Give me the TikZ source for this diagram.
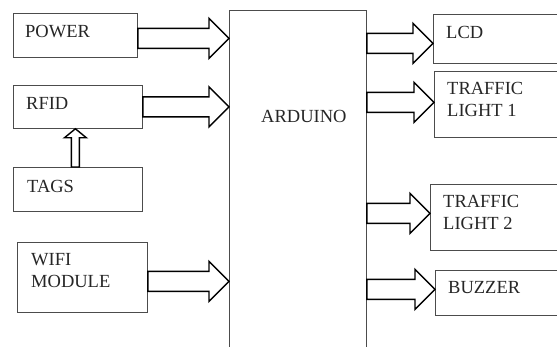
\documentclass[tikz,border=0pt]{standalone}
\usepackage{fontspec}
\setmainfont{Liberation Serif}
\usetikzlibrary{calc}

\tikzset{
  blk/.style={draw=black!70,line width=0.8pt,anchor=north west,inner sep=0pt},
  txt/.style={anchor=west,inner sep=0pt,align=left,text=black!85,
    font=\rmfamily\fontsize{18.5}{22}\selectfont},
  fat/.style={draw=black,line width=1.4pt,line join=miter},
}

% hollow block arrow: x from #1, tip at x of #2, middle line at y of #3
\newcommand{\fatarrow}[3]{%
  \draw[fat] let \p1=(#1), \p2=(#2), \p3=(#3) in
     (\x1,\y3+10pt) -- (\x2-20pt,\y3+10pt) -- (\x2-20pt,\y3+20pt) -- (\x2,\y3)
  -- (\x2-20pt,\y3-20pt) -- (\x2-20pt,\y3-10pt) -- (\x1,\y3-10pt) -- cycle;}

\begin{document}
\begin{tikzpicture}[x=1pt,y=-1pt]

\useasboundingbox (0,0) rectangle (557,347);
\clip (0,0) rectangle (557,347);

% inputs
\node[blk,minimum width=124,minimum height=44] (power) at (13,13) {};
\node[txt] (powertxt) at (25,32) {POWER};

\node[blk,minimum width=129,minimum height=43] (rfid) at (13,85) {};
\node[txt] (rfidtxt) at (26,103) {RFID};

\node[blk,minimum width=129,minimum height=44] (tags) at (13,167) {};
\node[txt] (tagstxt) at (27,186) {TAGS};

\node[blk,minimum width=130,minimum height=70] (wifi) at (17,242) {};
\node[txt] (wifitxt) at (31,271) {WIFI\\MODULE};

% controller
\node[blk,minimum width=137,minimum height=360] (ard) at (229,10) {};
\node[txt] (ardtxt) at (261,116) {ARDUINO};

% outputs
\node[blk,minimum width=140,minimum height=49] (lcd) at (433,14) {};
\node[txt] (lcdtxt) at (446,32) {LCD};

\node[blk,minimum width=140,minimum height=66] (tl1) at (434,71) {};
\node[txt] (tl1txt) at (447,99) {TRAFFIC\\LIGHT 1};

\node[blk,minimum width=140,minimum height=66] (tl2) at (430,184) {};
\node[txt] (tl2txt) at (443,212.5) {TRAFFIC\\LIGHT 2};

\node[blk,minimum width=140,minimum height=45] (buzzer) at (435,270) {};
\node[txt] (buzzertxt) at (448,288) {BUZZER};

% arrows
\fatarrow{power.east}{ard.west}{[yshift=-3pt]power.east}
\fatarrow{rfid.east}{ard.west}{rfid.east}
\fatarrow{wifi.east}{ard.west}{[yshift=-4pt]wifi.east}

\fatarrow{ard.east}{lcd.west}{[yshift=-4.5pt]lcd.west}
\fatarrow{ard.east}{tl1.west}{[yshift=2pt]tl1.west}
\fatarrow{ard.east}{tl2.west}{[yshift=4pt]tl2.west}
\fatarrow{ard.east}{buzzer.west}{[yshift=3.5pt]buzzer.west}

\draw[fat] let \p1=([xshift=-2.5pt]tags.north), \p2=(rfid.south) in
     (\x1-4pt,\y1) -- (\x1-4pt,\y2-9pt) -- (\x1-11pt,\y2-9pt) -- (\x1,\y2)
  -- (\x1+11pt,\y2-9pt) -- (\x1+4pt,\y2-9pt) -- (\x1+4pt,\y1) -- cycle;

\end{tikzpicture}
\end{document}
